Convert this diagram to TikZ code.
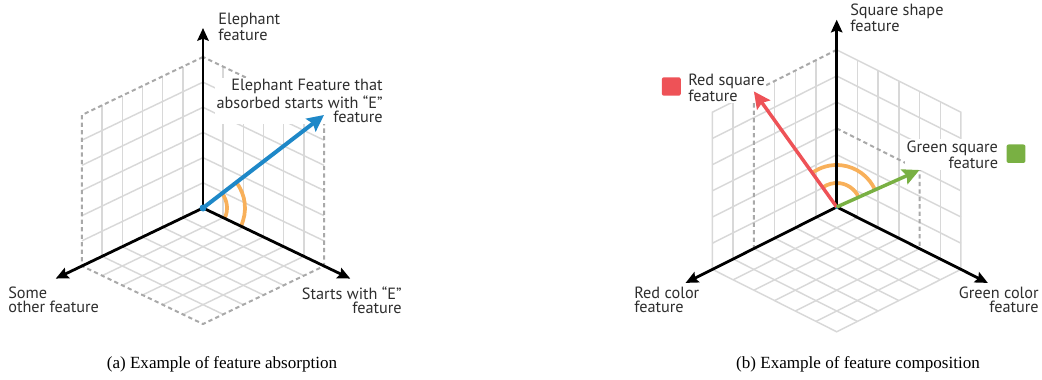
\documentclass[tikz,border=0pt]{standalone}
\usepackage{fontspec}
\setmainfont{Liberation Serif}
\newfontfamily\labelfont{PT Sans}
\usetikzlibrary{arrows.meta}

\definecolor{gridgray}{HTML}{D8D8D8}
\definecolor{dashgray}{HTML}{A9A9A9}
\definecolor{featblue}{HTML}{1E88C8}
\definecolor{angleorange}{HTML}{F8B05A}
\definecolor{featred}{HTML}{EE5257}
\definecolor{featgreen}{HTML}{79B043}
\definecolor{labelgray}{HTML}{2E2E2E}

\begin{document}
\begin{tikzpicture}[x=0.75pt, y=0.75pt,
  axisline/.style={line width=2.1pt, -{Stealth[length=9.5pt,width=8.5pt,inset=1.5pt]}},
  gridline/.style={gridgray, line width=1.1pt},
  rimline/.style={dashgray, line width=1.5pt, dash pattern=on 3.2pt off 2.4pt},
  vec/.style={line width=#1, -{Stealth[length=12.5pt,width=12pt,inset=2pt]}},
  anglearc/.style={angleorange, line width=2.8pt},
  lbl/.style={font=\labelfont\fontsize{12.2}{10.6}\selectfont, text=labelgray, fill=white, inner sep=1pt},
  swatch/.style={minimum width=14.2pt, minimum height=13.8pt, rounded corners=1.5pt, inner sep=0pt},
  caption/.style={font=\fontsize{12.8}{15}\selectfont, anchor=base}]
  \useasboundingbox (0,0) rectangle (1042,379);

  % (a) absorption
  \begin{scope}[shift={(203,171)}, x={(-15.13pt,-7.25pt)}, y={(15.13pt,-7.25pt)}, z={(0pt,18.88pt)}]
    \foreach \i in {1,...,5} {
      \draw[gridline] (\i,0,0) -- (\i,0,6);
      \draw[gridline] (0,0,\i) -- (6,0,\i);
      \draw[gridline] (0,\i,0) -- (0,\i,6);
      \draw[gridline] (0,0,\i) -- (0,6,\i);
      \draw[gridline] (\i,0,0) -- (\i,6,0);
      \draw[gridline] (0,\i,0) -- (6,\i,0);
    }
    \draw[rimline] (0,0,6) -- (6,0,6) -- (6,0,0) -- (6,6,0) -- (0,6,0) -- (0,6,6) -- cycle;
    \coordinate (oA) at (0,0,0);
    \coordinate (xA) at (7.3,0,0);
    \coordinate (yA) at (0,7.3,0);
    \coordinate (zA) at (0,0,7.15);
    \coordinate (bA) at (0,6,6);
  \end{scope}
  \node[lbl, anchor=north west, align=left] (zlabA) at (216.7,367.8) {Elephant\\feature};
  \node[lbl, anchor=north east, align=right] (blabA) at (384.3,301.1) {Elephant Feature that\\absorbed starts with “E”\\feature};
  \node[lbl, anchor=north west, align=left] (xlabA) at (6.7,93.8) {Some\\other feature};
  \node[lbl, anchor=north east, align=right] (ylabA) at (403.3,93.5) {Starts with “E”\\feature};
  \node[caption] (capA) at (222,11) {(a) Example of feature absorption};

  \draw[anglearc] ([shift={(-25.6:24)}]oA) arc[start angle=-25.6, end angle=37.5, radius=24];
  \draw[anglearc] ([shift={(-25.6:42)}]oA) arc[start angle=-25.6, end angle=37.5, radius=42];
  \draw[axisline] (oA) -- (xA);
  \draw[axisline] (oA) -- (yA);
  \draw[axisline] (oA) -- (zA);
  \draw[vec=3pt, featblue] (oA) -- (bA);
  \fill[featblue] (oA) circle[radius=3.5];

  % (b) composition
  \begin{scope}[shift={(836.7,172)}, x={(-15.53pt,-7.8pt)}, y={(15.53pt,-7.8pt)}, z={(0pt,19.65pt)}]
    \foreach \i in {1,2,3,5} \draw[gridline] (\i,0,0) -- (\i,0,6);
    \foreach \i in {1,...,5} \draw[gridline] (0,0,\i) -- (6,0,\i);
    \foreach \i in {1,2,3,5} \draw[gridline] (0,\i,0) -- (0,\i,6);
    \draw[gridline] (0,4,3) -- (0,4,6);
    \foreach \i in {1,2,4,5} \draw[gridline] (0,0,\i) -- (0,6,\i);
    \draw[gridline] (0,4,3) -- (0,6,3);
    \foreach \i in {1,...,5} {
      \draw[gridline] (\i,0,0) -- (\i,6,0);
      \draw[gridline] (0,\i,0) -- (6,\i,0);
    }
    \draw[gridline] (4,0,6) -- (6,0,6) -- (6,0,0) -- (6,6,0) -- (0,6,0) -- (0,6,6) -- (0,0,6);
    \coordinate (oB) at (0,0,0);
    \coordinate (xB) at (7.3,0,0);
    \coordinate (yB) at (0,7.3,0);
    \coordinate (zB) at (0,0,7.15);
    \coordinate (rB) at (4,0,6);
    \coordinate (rBx) at (4,0,0);
    \coordinate (rBz) at (0,0,6);
    \coordinate (gB) at (0,4,3);
    \coordinate (gBy) at (0,4,0);
    \coordinate (gBz) at (0,0,3);
  \end{scope}
  \draw[rimline] (rBz) -- (rB) -- (rBx);
  \draw[rimline] (gBz) -- (gB) -- (gBy);
  \node[lbl, anchor=north west, align=left] (zlabB) at (848.7,376.8) {Square shape\\feature};
  \node[lbl, anchor=north west, align=left] (rlabB) at (686.7,306.8) {Red square\\feature};
  \node[swatch, fill=featred] (rsqB) at (671.3,292.5) {};
  \node[lbl, anchor=north east, align=right] (glabB) at (999.6,240.1) {Green square\\feature};
  \node[swatch, fill=featgreen] (gsqB) at (1016,225.3) {};
  \node[lbl, anchor=north west, align=left] (xlabB) at (632.7,93.5) {Red color\\feature};
  \node[lbl, anchor=north east, align=right] (ylabB) at (1040.3,93.5) {Green color\\feature};
  \node[caption] (capB) at (858,11) {(b) Example of feature composition};

  \draw[anglearc] ([shift={(23.4:24)}]oB) arc[start angle=23.4, end angle=126.3, radius=24];
  \draw[anglearc] ([shift={(23.4:42)}]oB) arc[start angle=23.4, end angle=126.3, radius=42];
  \draw[axisline] (oB) -- (xB);
  \draw[axisline] (oB) -- (yB);
  \draw[axisline] (oB) -- (zB);
  \fill[featblue] (oB) circle[radius=2];
  \draw[vec=2.6pt, featred] (oB) -- (rB);
  \draw[vec=2.6pt, featgreen] (oB) -- (gB);
\end{tikzpicture}
\end{document}
